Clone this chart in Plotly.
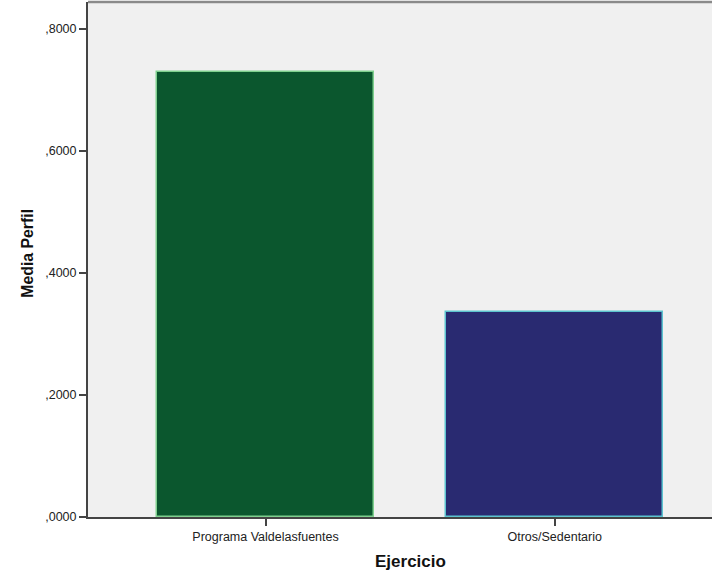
import plotly.graph_objects as go

categories = ["Programa Valdelasfuentes", "Otros/Sedentario"]
values = [0.7295, 0.336]
fill_colors = ["#0b572e", "#292a71"]
line_colors = ["#7fd08e", "#5cc3cf"]
y_ticks = [0.0, 0.2, 0.4, 0.6, 0.8]
y_tick_labels = [",0000", ",2000", ",4000", ",6000", ",8000"]

fig = go.Figure()
fig.add_trace(go.Bar(
    x=[0, 1], y=values,
    marker=dict(color=fill_colors, line=dict(color=line_colors, width=1.5)),
    width=0.752,
))

font = "Liberation Sans, Arial, sans-serif"
fig.update_layout(
    width=712, height=571,
    margin=dict(l=88, r=0, t=2, b=54),
    paper_bgcolor="white",
    plot_bgcolor="#f0f0f0",
    showlegend=False,
    bargap=0,
    font=dict(family=font, color="#222222"),
    xaxis=dict(
        range=[-0.614, 1.544],
        tickmode="array", tickvals=[0, 1], ticktext=categories,
        ticks="outside", ticklen=7, tickcolor="#444", tickwidth=1.5,
        tickfont=dict(size=12.5, family=font, color="#222"),
        showline=True, linecolor="#444", linewidth=2,
        showgrid=False, zeroline=False, fixedrange=True,
    ),
    yaxis=dict(
        range=[0, 0.8438],
        tickmode="array", tickvals=y_ticks, ticktext=y_tick_labels,
        ticks="outside", ticklen=7, tickcolor="#444", tickwidth=1.5,
        tickfont=dict(size=12.5, family=font, color="#222"),
        showline=True, linecolor="#444", linewidth=2,
        showgrid=False, zeroline=False,
    ),
    shapes=[dict(type="line", xref="paper", yref="paper", x0=0, x1=1, y0=1, y1=1,
                 line=dict(color="#8a8a8a", width=2.5))],
    annotations=[
        dict(text="<b>Ejercicio</b>", xref="paper", yref="paper",
             x=(410.5 - 88) / 624, y=(516.7 - 561) / 514.7, xanchor="center", yanchor="middle",
             showarrow=False, font=dict(size=17, family=font, color="#111")),
        dict(text="<b>Media Perfil</b>", xref="paper", yref="paper",
             x=(28 - 88) / 624, y=(516.7 - 253.5) / 514.7, xanchor="center", yanchor="middle",
             textangle=-90, showarrow=False, font=dict(size=15.8, family=font, color="#111")),
    ],
)

fig.write_html(
    "out.html",
    config={"displayModeBar": False},
    post_script="document.body.style.margin='0';document.body.style.overflow='hidden';",
)
